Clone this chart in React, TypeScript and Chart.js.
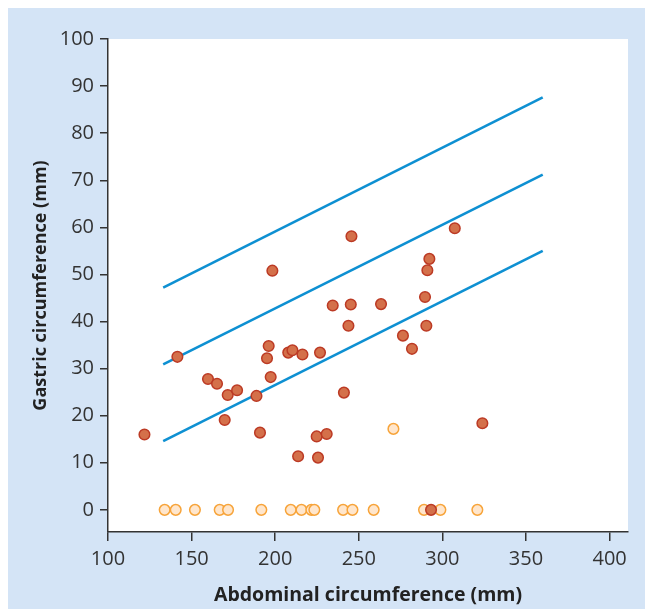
import { useEffect, useRef } from "react";
import { Chart, registerables } from "chart.js";

Chart.register(...registerables);

// Axis ticks
const xTicks = [100, 150, 200, 250, 300, 350, 400];
const yTicks = [0, 10, 20, 30, 40, 50, 60, 70, 80, 90, 100];

// Measured gastric circumference (filled red)
const measuredX = [121.8, 141.5, 159.8, 165.2, 169.8, 171.6, 177.2, 188.8, 190.9, 195.1, 196.1, 197.3, 198.3, 207.8, 210.3, 213.7, 216.3, 224.8, 225.6, 226.8, 230.8, 234.4, 241.1, 243.8, 245.2, 245.6, 263.3, 276.4, 281.8, 289.6, 290.4, 291.0, 292.2, 293.2, 307.4, 323.9];
const measuredY = [16.0, 32.5, 27.8, 26.8, 19.1, 24.4, 25.4, 24.2, 16.4, 32.2, 34.8, 28.2, 50.8, 33.4, 33.9, 11.4, 33.0, 15.6, 11.1, 33.4, 16.1, 43.4, 24.9, 39.1, 43.6, 58.1, 43.7, 37.0, 34.2, 45.2, 39.1, 50.9, 53.3, 0, 59.8, 18.4];

// Open circles
const openX = [133.9, 140.5, 152.0, 166.8, 171.8, 191.7, 209.3, 215.7, 221.6, 223.4, 240.6, 246.2, 258.9, 289.0, 298.8, 320.9, 270.7];
const openY = [0, 0, 0, 0, 0, 0, 0, 0, 0, 0, 0, 0, 0, 0, 0, 0, 17.2];

// Reference lines (upper, middle, lower)
const lineX = [133, 360];
const upperY = [47.2, 87.6];
const middleY = [30.9, 71.2];
const lowerY = [14.6, 55.0];

const toPts = (xs: number[], ys: number[]) => xs.map((x, i) => ({ x, y: ys[i] }));

const LINE_COLOR = "#0E90D2";
const AXIS_COLOR = "#333333";

export default function App() {
  const canvasRef = useRef<HTMLCanvasElement | null>(null);

  useEffect(() => {
    if (!canvasRef.current) return;
    const whiteArea = {
      id: "whiteArea",
      beforeDraw(chart: any) {
        const { ctx, chartArea } = chart;
        ctx.save();
        ctx.fillStyle = "#ffffff";
        ctx.fillRect(chartArea.left, chartArea.top, chartArea.right - chartArea.left, chartArea.bottom - chartArea.top);
        ctx.restore();
      },
    };
    const lineDs = (ys: number[]) => ({
      type: "line" as const,
      data: toPts(lineX, ys),
      borderColor: LINE_COLOR,
      borderWidth: 2.6,
      pointRadius: 0,
      fill: false,
      order: 3,
    });
    const chart = new Chart(canvasRef.current, {
      type: "scatter",
      data: {
        datasets: [
          {
            data: toPts(measuredX, measuredY),
            backgroundColor: "#D4704A",
            borderColor: "#BC3A24",
            borderWidth: 1.5,
            pointRadius: 5.3,
            order: 0,
          },
          {
            data: toPts(openX, openY),
            backgroundColor: "#FFE6CC",
            borderColor: "#F7A43A",
            borderWidth: 1.5,
            pointRadius: 5.3,
            order: 1,
          },
          lineDs(upperY) as any,
          lineDs(middleY) as any,
          lineDs(lowerY) as any,
        ],
      },
      options: {
        animation: false,
        responsive: true,
        maintainAspectRatio: false,
        layout: { padding: { top: 31, right: 17, left: 0, bottom: 0 } },
        plugins: { legend: { display: false }, tooltip: { enabled: false } },
        scales: {
          x: {
            type: "linear",
            min: 100,
            max: 411,
            afterBuildTicks: (s: any) => {
              s.ticks = xTicks.map((v) => ({ value: v }));
            },
            afterFit: (s: any) => {
              s.height = 77;
            },
            grid: { drawOnChartArea: false, tickLength: 9, color: AXIS_COLOR, lineWidth: 1.5 },
            border: { color: AXIS_COLOR, width: 1.5 },
            ticks: { font: { family: "'Open Sans'", size: 20 }, color: AXIS_COLOR, padding: 6, maxRotation: 0 },
            title: {
              display: true,
              text: "Abdominal circumference (mm)",
              font: { family: "'Open Sans'", size: 19.5, weight: "bold" },
              color: "#222222",
              padding: { top: 0, bottom: 2 },
            },
          },
          y: {
            type: "linear",
            min: -4.7,
            max: 100,
            afterBuildTicks: (s: any) => {
              s.ticks = yTicks.map((v) => ({ value: v }));
            },
            afterFit: (s: any) => {
              s.width = 100;
            },
            grid: { drawOnChartArea: false, tickLength: 8, color: AXIS_COLOR, lineWidth: 1.5 },
            border: { color: AXIS_COLOR, width: 1.5 },
            ticks: { font: { family: "'Open Sans'", size: 20 }, color: AXIS_COLOR, padding: 6 },
            title: {
              display: true,
              text: "Gastric circumference (mm)",
              font: { family: "'Open Sans'", size: 18, weight: "bold" },
              color: "#222222",
              padding: { top: 22, bottom: 0 },
            },
          },
        },
      },
      plugins: [whiteArea],
    });
    return () => chart.destroy();
  }, []);

  return (
    <div style={{ position: "fixed", left: 8, top: 8, width: 637, height: 601, background: "#D4E4F6" }}>
      <canvas ref={canvasRef} />
    </div>
  );
}
